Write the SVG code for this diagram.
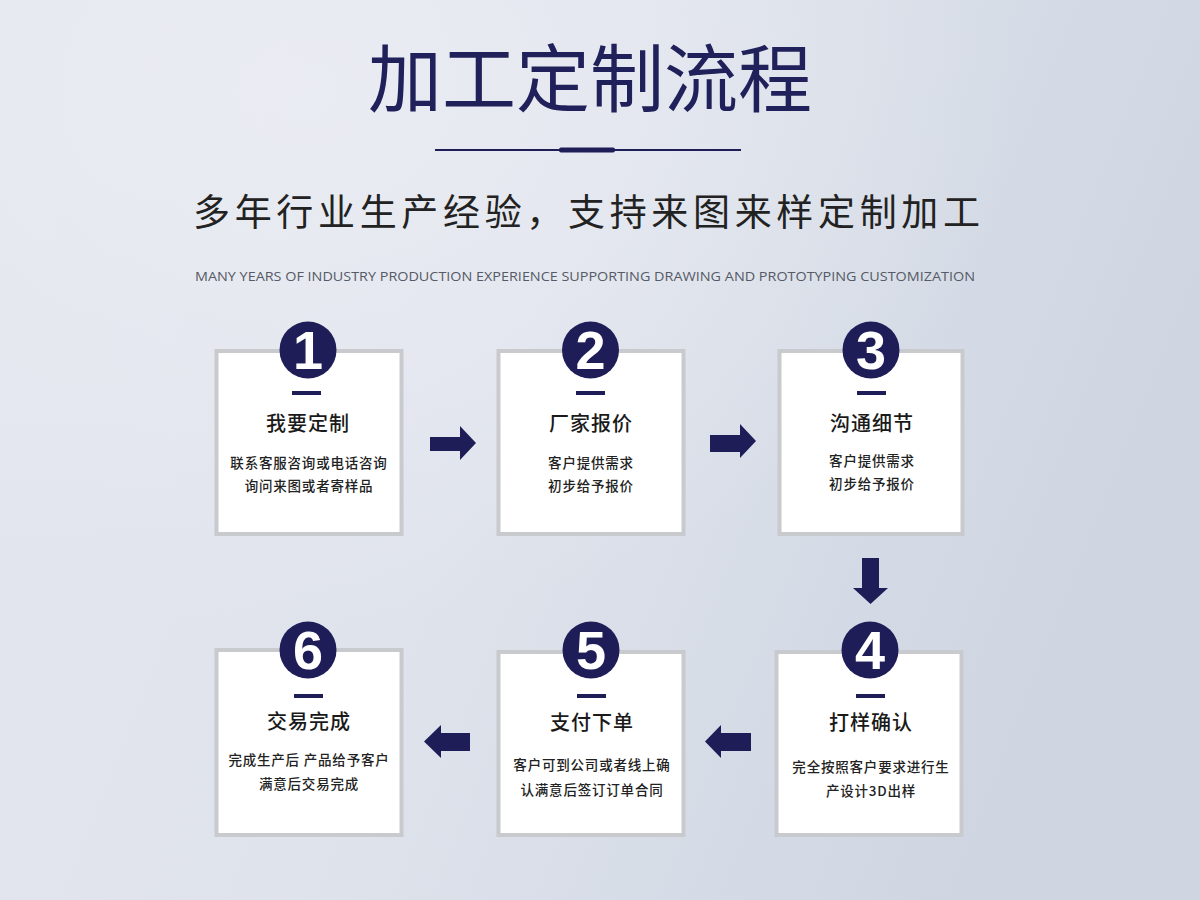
<svg xmlns="http://www.w3.org/2000/svg" width="1200" height="900" viewBox="0 0 1200 900">
<defs>
<linearGradient id="bg" x1="0" y1="0" x2="1" y2="0.3">
<stop offset="0" stop-color="#e4e6ee"/>
<stop offset="0.5" stop-color="#dfe3ec"/>
<stop offset="1" stop-color="#cfd6e2"/>
</linearGradient>
<radialGradient id="hl" cx="0.25" cy="0.1" r="0.6">
<stop offset="0" stop-color="#eceef4" stop-opacity="0.8"/>
<stop offset="1" stop-color="#eceef4" stop-opacity="0"/>
</radialGradient>
<style>
.box{fill:#ffffff;stroke:#c9cacd;stroke-width:4}
.num{fill:#1f1d58}
.numt{fill:#ffffff;font-family:"Liberation Sans",Arial,sans-serif;font-weight:bold;font-size:54px;text-anchor:middle}
.dash{fill:#1f1d58}
.ttl{fill:#1a1a1a;font-family:"Noto Sans CJK SC",sans-serif;font-size:20px;font-weight:500;text-anchor:middle;letter-spacing:1px}
.desc{fill:#222;font-family:"Noto Sans CJK SC",sans-serif;font-size:13.5px;font-weight:500;text-anchor:middle;letter-spacing:0.8px}
.arr{fill:#1f1d58}
</style>
</defs>
<rect width="1200" height="900" fill="url(#bg)"/>
<rect width="1200" height="900" fill="url(#hl)"/>
<g id="header">
<text x="590" y="106" fill="#20205a" font-family="Noto Sans CJK SC,sans-serif" font-size="74" font-weight="400" text-anchor="middle">加工定制流程</text>
<rect x="435" y="149" width="306" height="2" fill="#1f1d58"/>
<rect x="559" y="147.5" width="56" height="5" rx="2" fill="#1f1d58"/>
<text x="193" y="226" fill="#222" font-family="Noto Sans CJK SC,sans-serif" font-size="37" font-weight="400" textLength="787" lengthAdjust="spacing">多年行业生产经验，支持来图来样定制加工</text>
<text x="195" y="281" fill="#555a66" font-family="Open Sans,sans-serif" font-size="13" textLength="780" lengthAdjust="spacingAndGlyphs">MANY YEARS OF INDUSTRY PRODUCTION EXPERIENCE SUPPORTING DRAWING AND PROTOTYPING CUSTOMIZATION</text>
</g>
<g id="step1">
<rect class="box" x="216.5" y="351" width="185" height="183"/>
<circle class="num" cx="308" cy="350" r="28.5"/>
<text class="numt" x="308" y="369">1</text>
<rect class="dash" x="292" y="391" width="29" height="4"/>
<text class="ttl" x="308" y="431">我要定制</text>
<text class="desc" x="309" y="468">联系客服咨询或电话咨询</text>
<text class="desc" x="309" y="491">询问来图或者寄样品</text>
</g>
<g id="step2">
<rect class="box" x="498.5" y="351" width="185" height="183"/>
<circle class="num" cx="590.5" cy="350" r="28.5"/>
<text class="numt" x="590.5" y="369">2</text>
<rect class="dash" x="576" y="391" width="29" height="4"/>
<text class="ttl" x="591" y="431">厂家报价</text>
<text class="desc" x="591" y="468">客户提供需求</text>
<text class="desc" x="591" y="491">初步给予报价</text>
</g>
<g id="step3">
<rect class="box" x="779.5" y="351" width="183" height="183"/>
<circle class="num" cx="871" cy="350" r="28.5"/>
<text class="numt" x="871" y="369">3</text>
<rect class="dash" x="857" y="391" width="29" height="4"/>
<text class="ttl" x="872" y="431">沟通细节</text>
<text class="desc" x="872" y="466">客户提供需求</text>
<text class="desc" x="872" y="489">初步给予报价</text>
</g>
<g id="step4">
<rect class="box" x="776.5" y="652" width="185" height="183"/>
<circle class="num" cx="870" cy="650" r="28.5"/>
<text class="numt" x="870" y="669">4</text>
<rect class="dash" x="856" y="694" width="29" height="4"/>
<text class="ttl" x="871" y="730">打样确认</text>
<text class="desc" x="871" y="772">完全按照客户要求进行生</text>
<text class="desc" x="871" y="796">产设计3D出样</text>
</g>
<g id="step5">
<rect class="box" x="498.5" y="652" width="185" height="183"/>
<circle class="num" cx="591" cy="650" r="28.5"/>
<text class="numt" x="591" y="669">5</text>
<rect class="dash" x="577" y="694" width="29" height="4"/>
<text class="ttl" x="592" y="730">支付下单</text>
<text class="desc" x="592" y="770">客户可到公司或者线上确</text>
<text class="desc" x="592" y="795">认满意后签订订单合同</text>
</g>
<g id="step6">
<rect class="box" x="216.5" y="650" width="185" height="185"/>
<circle class="num" cx="308" cy="650" r="28.5"/>
<text class="numt" x="308" y="669">6</text>
<rect class="dash" x="294" y="694" width="29" height="4"/>
<text class="ttl" x="309" y="729">交易完成</text>
<text class="desc" x="309" y="765">完成生产后 产品给予客户</text>
<text class="desc" x="309" y="789">满意后交易完成</text>
</g>
<g id="connectors">
<polygon class="arr" points="430,437 460,437 460,426 476,443 460,460 460,451 430,451"/>
<polygon class="arr" points="710,435 740,435 740,424 756,441 740,458 740,452 710,452"/>
<polygon class="arr" points="862,558 879,558 879,588 888,588 870.5,604 853,588 862,588"/>
<polygon class="arr" points="751,733 721,733 721,725 705,741.5 721,758 721,751 751,751"/>
<polygon class="arr" points="470,733 441,733 441,725 424,741.5 441,758 441,751 470,751"/>
</g>
</svg>
